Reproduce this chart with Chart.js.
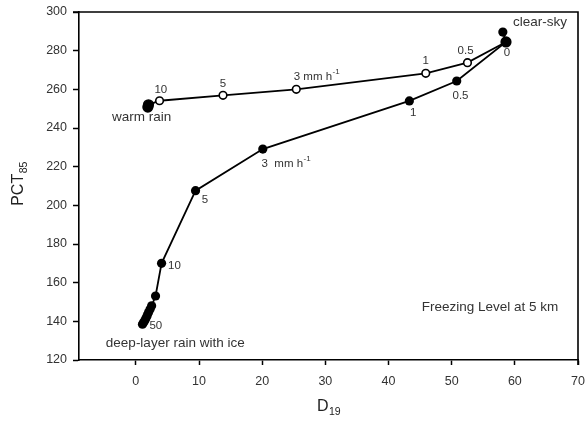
<!DOCTYPE html>
<html>
<head>
<meta charset="utf-8">
<script src="https://cdn.jsdelivr.net/npm/chart.js@4"></script>
<style>
html,body{margin:0;padding:0;background:#fff;}
#wrap{width:585px;height:423px;}
</style>
</head>
<body>
<div id="wrap"><canvas id="c" width="585" height="423"></canvas></div>
<script>
// ---- data ----
const xTicks = [0, 10, 20, 30, 40, 50, 60, 70];
const yTicks = [120, 140, 160, 180, 200, 220, 240, 260, 280, 300];

// deep-layer rain with ice (filled circles)
const iceD19 = [58.1, 58.6, 50.8, 43.3, 20.1, 9.45, 4.07, 3.12, 2.5, 2.25, 2.0, 1.8, 1.6, 1.4, 1.2, 1.05];
const icePCT = [289.6, 284.5, 264.3, 254.0, 229.1, 207.6, 170.0, 153.1, 148.0, 146.2, 144.6, 143.0, 141.6, 140.3, 139.3, 138.5];

// warm rain (open circles, end points filled)
const warmD19 = [58.6, 52.5, 45.9, 25.4, 13.8, 3.75, 2.0, 1.9];
const warmPCT = [284.5, 273.8, 268.3, 260.0, 256.9, 254.1, 252.0, 250.8];
const warmFilled = [true, false, false, false, false, false, true, true];

// annotations: [text, x, y, align, size, superscript]
const notes = [
  ["clear-sky", 59.7, 294.5, "left", 13.5, ""],
  ["0", 58.76, 278.8, "center", 11.5, ""],
  ["0.5", 52.2, 280.0, "center", 11.5, ""],
  ["1", 45.9, 274.7, "center", 11.5, ""],
  ["0.5", 51.4, 256.5, "center", 11.5, ""],
  ["1", 43.9, 247.6, "center", 11.5, ""],
  ["3 mm h", 25.0, 266.5, "left", 11.5, "-1"],
  ["5", 13.8, 262.8, "center", 11.5, ""],
  ["10", 3.96, 260.0, "center", 11.5, ""],
  ["warm rain", 0.9, 245.3, "center", 13.5, ""],
  ["3  mm h", 19.9, 221.7, "left", 11.5, "-1"],
  ["5", 10.93, 203.1, "center", 11.5, ""],
  ["10", 6.1, 168.8, "center", 11.5, ""],
  ["50", 3.17, 137.7, "center", 11.5, ""],
  ["deep-layer rain with ice", -4.75, 128.9, "left", 13.5, ""],
  ["Freezing Level at 5 km", 45.25, 147.5, "left", 13.5, ""]
];

const FONT = 'Arial, "Liberation Sans", sans-serif';
const toPts = (xs, ys) => xs.map((x, i) => ({x: x, y: ys[i]}));

const decor = {
  id: 'decor',
  afterDraw(chart) {
    const ctx = chart.ctx, a = chart.chartArea;
    const xs = chart.scales.x, ys = chart.scales.y;
    ctx.save();
    // frame top & right
    ctx.strokeStyle = '#000';
    ctx.lineWidth = 1.6;
    ctx.beginPath();
    ctx.moveTo(a.left - 6, a.top);
    ctx.lineTo(a.right, a.top);
    ctx.lineTo(a.right, a.bottom + 5);
    ctx.stroke();
    // annotations
    ctx.fillStyle = '#333';
    ctx.textBaseline = 'middle';
    notes.forEach(n => {
      const [txt, x, y, align, size, sup] = n;
      const px = xs.getPixelForValue(x), py = ys.getPixelForValue(y);
      ctx.font = size + 'px ' + FONT;
      const w = ctx.measureText(txt).width;
      ctx.font = (size * 0.7) + 'px ' + FONT;
      const ws = sup ? ctx.measureText(sup).width : 0;
      const total = w + ws;
      let left = px;
      if (align === 'center') left = px - total / 2;
      ctx.textAlign = 'left';
      ctx.font = size + 'px ' + FONT;
      ctx.fillText(txt, left, py);
      if (sup) {
        ctx.font = (size * 0.7) + 'px ' + FONT;
        ctx.fillText(sup, left + w + 0.5, py - size * 0.4);
      }
    });
    // axis titles with subscripts
    ctx.fillStyle = '#222';
    ctx.textBaseline = 'alphabetic';
    ctx.textAlign = 'left';
    const cx = (a.left + a.right) / 2;
    ctx.font = '16px ' + FONT;
    const wD = ctx.measureText('D').width;
    ctx.font = '10.5px ' + FONT;
    const w19 = ctx.measureText('19').width;
    let lx = cx - (wD + w19) / 2;
    ctx.font = '16px ' + FONT;
    ctx.fillText('D', lx, 411);
    ctx.font = '10.5px ' + FONT;
    ctx.fillText('19', lx + wD + 0.5, 415);
    // y title rotated
    ctx.translate(23, (a.top + a.bottom) / 2 - 2);
    ctx.rotate(-Math.PI / 2);
    ctx.font = '16px ' + FONT;
    const wP = ctx.measureText('PCT').width;
    ctx.font = '10.5px ' + FONT;
    const w85 = ctx.measureText('85').width;
    const sx = -(wP + w85) / 2;
    ctx.font = '16px ' + FONT;
    ctx.fillText('PCT', sx, 0);
    ctx.font = '10.5px ' + FONT;
    ctx.fillText('85', sx + wP + 0.5, 4);
    ctx.restore();
  }
};

new Chart(document.getElementById('c'), {
  type: 'scatter',
  data: {
    datasets: [
      {
        data: toPts(iceD19, icePCT),
        showLine: true,
        borderColor: '#000',
        borderWidth: 1.8,
        backgroundColor: '#000',
        pointBackgroundColor: '#000',
        pointBorderColor: '#000',
        pointRadius: 4.6,
        pointBorderWidth: 0,
        tension: 0
      },
      {
        data: toPts(warmD19, warmPCT),
        showLine: true,
        borderColor: '#000',
        borderWidth: 1.8,
        pointBackgroundColor: warmFilled.map(f => f ? '#000' : '#fff'),
        pointBorderColor: '#000',
        pointRadius: warmFilled.map(f => f ? 4.8 : 3.8),
        pointBorderWidth: 1.6,
        tension: 0
      }
    ]
  },
  options: {
    responsive: false,
    animation: false,
    devicePixelRatio: 1,
    layout: {padding: {left: 0, right: 7, top: 12, bottom: 0}},
    plugins: {legend: {display: false}, tooltip: {enabled: false}},
    scales: {
      x: {
        type: 'linear',
        min: -9, max: 70,
        afterBuildTicks: s => { s.ticks = xTicks.map(v => ({value: v})); },
        afterFit: s => { s.height = 63; s.paddingRight = 0; s.paddingLeft = 0; },
        grid: {display: true, drawOnChartArea: false, drawTicks: true, tickLength: 5, tickColor: '#000', tickWidth: 1.5},
        border: {display: true, color: '#000', width: 1.6},
        ticks: {color: '#333', font: {family: FONT, size: 12.5}, padding: 9, maxRotation: 0}
      },
      y: {
        type: 'linear',
        min: 120, max: 300,
        afterBuildTicks: s => { s.ticks = yTicks.map(v => ({value: v})); },
        afterFit: s => { s.width = 79; s.paddingTop = 0; s.paddingBottom = 0; },
        grid: {display: true, drawOnChartArea: false, drawTicks: true, tickLength: 6, tickColor: '#000', tickWidth: 1.5},
        border: {display: true, color: '#000', width: 1.6},
        ticks: {color: '#333', font: {family: FONT, size: 12.5}, padding: 6}
      }
    }
  },
  plugins: [decor]
});
</script>
</body>
</html>
